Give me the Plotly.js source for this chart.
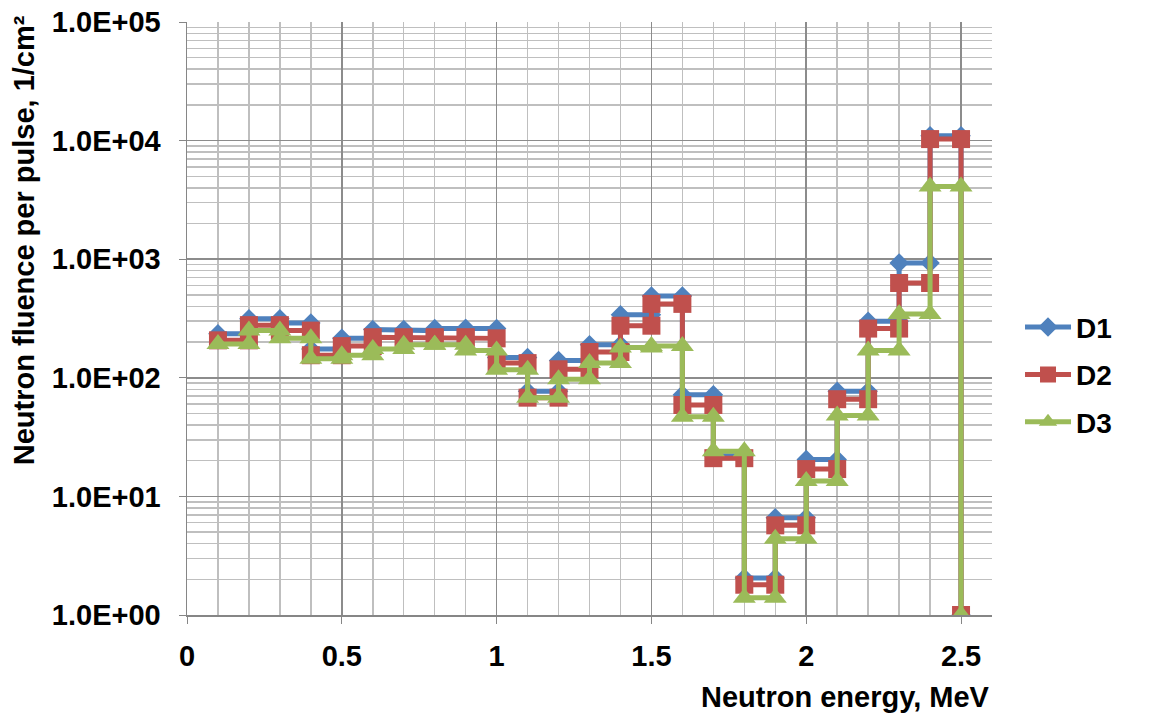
<!DOCTYPE html>
<html>
<head>
<meta charset="utf-8">
<script src="https://cdn.plot.ly/plotly-3.0.1.min.js"></script>
<style>html,body{margin:0;padding:0;background:#fff;}#chart{width:1154px;height:718px;}</style>
</head>
<body>
<div id="chart"></div>
<script>
// Bin edges (MeV)
const binEdges = [0.1,0.2,0.3,0.4,0.5,0.6,0.7,0.8,0.9,1.0,1.1,1.2,1.3,1.4,1.5,1.6,1.7,1.8,1.9,2.0,2.1,2.2,2.3,2.4,2.5];
// Fluence per bin (24 bins) followed by the value at the last edge
const d1 = [235,315,290,175,215,255,250,260,260,148,77,140,190,340,490,72,22,2.05,6.6,20.5,77,300,930,11000, 1];
const d2 = [207,278,250,155,185,220,215,220,215,133,68,118,165,275,420,59,21,1.8,5.7,17,66,260,630,10300, 1];
const d3 = [193,250,215,145,155,175,190,190,170,117,68,97,133,180,185,47,24,1.4,4.4,13.5,48,170,345,4100, 1];
const seriesNames = ['D1','D2','D3'];
const yTickVals = [1,10,100,1000,10000,100000];
const yTickText = ['1.0E+00','1.0E+01','1.0E+02','1.0E+03','1.0E+04','1.0E+05'];
const xTickVals = [0,0.5,1,1.5,2,2.5];
const xTickText = ['0','0.5','1','1.5','2','2.5'];

function steps(vals){
  const x=[], y=[];
  for(let i=0;i<binEdges.length-1;i++){
    x.push(binEdges[i]); y.push(vals[i]);
    x.push(binEdges[i+1]); y.push(vals[i]);
  }
  x.push(binEdges[binEdges.length-1]); y.push(vals[vals.length-1]);
  return {x,y};
}
const colors = ['#4F81BD','#C0504D','#9BBB59'];
const symbols = ['diamond','square','triangle-up'];
const msizes = [15,18,20];
const all = [d1,d2,d3];
const traces = all.map((v,i)=>{
  const s = steps(v);
  return {
    x:s.x, y:s.y, name:seriesNames[i], type:'scatter', mode:'lines+markers',
    line:{color:colors[i], width:5},
    marker:{symbol:symbols[i], size:msizes[i], color:colors[i]},
    legendgroup:'g'+i
  };
});
// minor log gridline positions
const minorY=[];
for(let e=0;e<5;e++){for(let k=2;k<=9;k++){minorY.push(k*Math.pow(10,e));}}

const font = {family:'"Liberation Sans", Arial, sans-serif', color:'#000'};
const layout = {
  width:1154, height:718,
  margin:{l:187, r:162, t:22, b:103},
  paper_bgcolor:'#fff', plot_bgcolor:'#fff',
  showlegend:true,
  legend:{x:1.0348, xanchor:'left', y:0.405, yanchor:'middle', tracegroupgap:8, itemwidth:46,
          font:Object.assign({}, font, {size:28, weight:'bold'})},
  xaxis:{
    range:[0,2.6], tickmode:'array', tickvals:xTickVals, ticktext:xTickText,
    showgrid:true, gridcolor:'#8C8C8C', gridwidth:1.5,
    minor:{dtick:0.1, tick0:0, showgrid:true, gridcolor:'#BFBFBF', gridwidth:1.5},
    showline:true, linecolor:'#868686', linewidth:1.5,
    ticks:'outside', ticklen:7, tickcolor:'#868686', ticklabelstandoff:8,
    tickfont:Object.assign({}, font, {size:29, weight:'bold'}),
    zeroline:false
  },
  yaxis:{
    type:'log', range:[0,5], tickmode:'array', tickvals:yTickVals, ticktext:yTickText,
    showgrid:true, gridcolor:'#8C8C8C', gridwidth:1.5,
    minor:{tickmode:'array', tickvals:minorY, showgrid:true, gridcolor:'#BFBFBF', gridwidth:1.5},
    showline:true, linecolor:'#868686', linewidth:1.5,
    ticks:'outside', ticklen:7, tickcolor:'#868686', ticklabelstandoff:12,
    tickfont:Object.assign({}, font, {size:29, weight:'bold'}),
    zeroline:false
  },
  annotations:[
    {text:'Neutron energy, MeV', xref:'paper', yref:'paper', x:1, xanchor:'right', y:-0.138, yanchor:'middle',
     showarrow:false, font:Object.assign({}, font, {size:29, weight:'bold'})},
    {text:'Neutron fluence per pulse, 1/cm²', xref:'paper', yref:'paper', x:-0.2025, xanchor:'center', y:0.632, yanchor:'middle',
     textangle:-90, showarrow:false, font:Object.assign({}, font, {size:29, weight:'bold'})}
  ]
};
Plotly.newPlot('chart', traces, layout, {displayModeBar:false, staticPlot:true});
</script>
</body>
</html>
